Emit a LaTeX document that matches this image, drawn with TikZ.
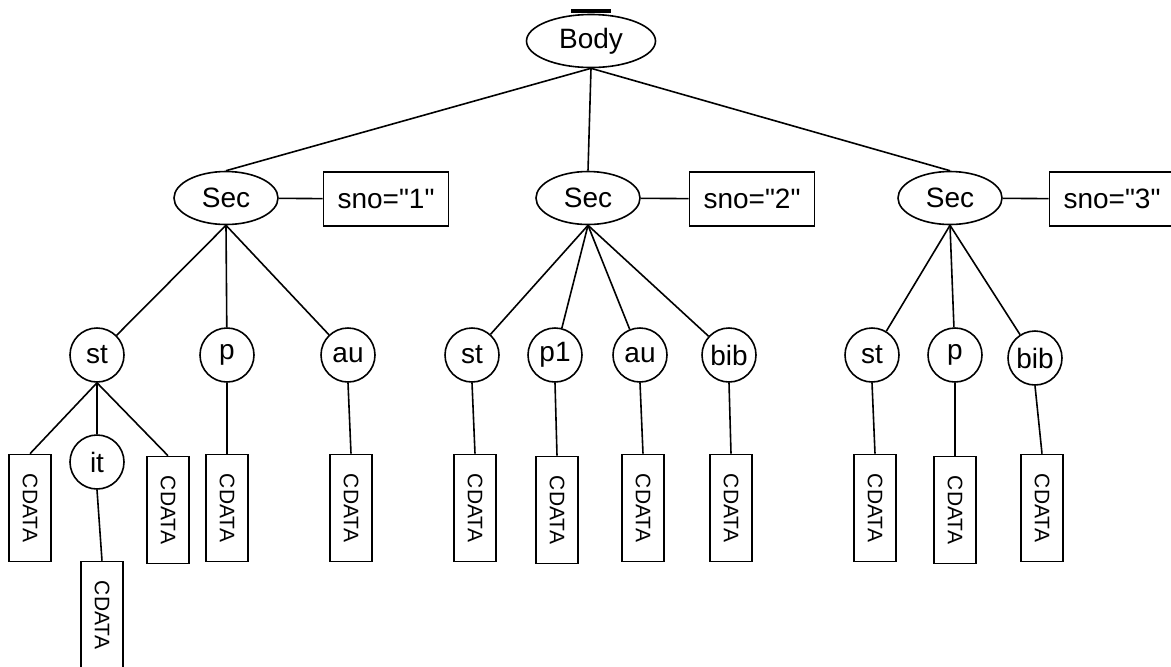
\documentclass[tikz,border=0pt]{standalone}
\usepackage{fontspec}
\setmainfont{Liberation Sans}[Ligatures=TeXOff]
\usetikzlibrary{shapes.geometric}
\tikzset{
  elem/.style={draw, ellipse, line width=0.8pt, inner sep=0pt,
    minimum width=52pt, minimum height=26.5pt, font=\fontsize{14}{16}\selectfont},
  leaf/.style={draw, circle, line width=0.8pt, inner sep=0pt,
    minimum size=27pt, font=\fontsize{14}{16}\selectfont},
  attr/.style={draw, rectangle, line width=0.8pt, inner sep=0pt,
    minimum width=62.5pt, minimum height=27pt, font=\fontsize{14}{16}\selectfont},
  cdata/.style={draw, rectangle, line width=0.8pt, inner sep=0pt,
    minimum width=21pt, minimum height=53.5pt, font=\fontsize{10.5}{12}\selectfont},
  link/.style={line width=0.8pt}
}
\newcommand{\cdtext}{\rotatebox{-90}{CDATA}}
\begin{document}
\begin{tikzpicture}[x=0.5pt, y=-0.5pt]
  \useasboundingbox (0,0) rectangle (1171,666);
  % Root
  \node[elem, minimum width=64.5pt] (body) at (591,41) {Body};
  \draw[line width=2pt] ([xshift=-10pt, yshift=1.2pt]body.north) -- ([xshift=10pt, yshift=1.2pt]body.north);
  % Sections and their attributes
  \node[elem] (sec1) at (226,198) {Sec};
  \node[elem] (sec2) at (588,198) {Sec};
  \node[elem] (sec3) at (950,198) {Sec};
  \node[attr] (sno1) at (386,199) {sno="1"};
  \node[attr] (sno2) at (752,199) {sno="2"};
  \node[attr] (sno3) at (1112,199) {sno="3"};
  \draw[link] (body.south) -- (sec1.north);
  \draw[link] (body.south) -- (sec2.north);
  \draw[link] (body.south) -- (sec3.north);
  \draw[link] (sec1) -- (sno1);
  \draw[link] (sec2) -- (sno2);
  \draw[link] (sec3) -- (sno3);
  % Children of section 1
  \node[leaf] (st1) at (97,355) {st};
  \node[leaf] (p1) at (227,355) {p};
  \node[leaf] (au1) at (348,355) {au};
  \node[leaf] (it1) at (97,462) {it};
  \draw[link] (sec1.south) -- (st1);
  \draw[link] (sec1.south) -- (p1);
  \draw[link] (sec1.south) -- (au1);
  \node[cdata] (cdA) at (30,508) {\cdtext};
  \node[cdata] (cdB) at (168,510) {\cdtext};
  \node[cdata] (cdC) at (102,615) {\cdtext};
  \node[cdata] (cdD) at (227,508) {\cdtext};
  \node[cdata] (cdE) at (351,508) {\cdtext};
  \draw[link] (st1.south) -- (cdA.north);
  \draw[link] (st1.south) -- (it1.north);
  \draw[link] (st1.south) -- (cdB.north);
  \draw[link] (it1.south) -- (cdC.north);
  \draw[link] (p1.south) -- (cdD.north);
  \draw[link] (au1.south) -- (cdE.north);
  % Children of section 2
  \node[leaf] (st2) at (472,355) {st};
  \node[leaf] (pa2) at (555,355) {p1};
  \node[leaf] (au2) at (640,355) {au};
  \node[leaf] (bib2) at (729,355) {bib};
  \draw[link] (sec2.south) -- (st2);
  \draw[link] (sec2.south) -- (pa2);
  \draw[link] (sec2.south) -- (au2);
  \draw[link] (sec2.south) -- (bib2);
  \node[cdata] (cdF) at (475,508) {\cdtext};
  \node[cdata] (cdG) at (557,510) {\cdtext};
  \node[cdata] (cdH) at (643,508) {\cdtext};
  \node[cdata] (cdI) at (731,508) {\cdtext};
  \draw[link] (st2.south) -- (cdF.north);
  \draw[link] (pa2.south) -- (cdG.north);
  \draw[link] (au2.south) -- (cdH.north);
  \draw[link] (bib2.south) -- (cdI.north);
  % Children of section 3
  \node[leaf] (st3) at (872,355) {st};
  \node[leaf] (p3) at (955,355) {p};
  \node[leaf] (bib3) at (1035,358) {bib};
  \draw[link] (sec3.south) -- (st3);
  \draw[link] (sec3.south) -- (p3);
  \draw[link] (sec3.south) -- (bib3);
  \node[cdata] (cdJ) at (875,508) {\cdtext};
  \node[cdata] (cdK) at (955,510) {\cdtext};
  \node[cdata] (cdL) at (1042,508) {\cdtext};
  \draw[link] (st3.south) -- (cdJ.north);
  \draw[link] (p3.south) -- (cdK.north);
  \draw[link] (bib3.south) -- (cdL.north);
\end{tikzpicture}
\end{document}
